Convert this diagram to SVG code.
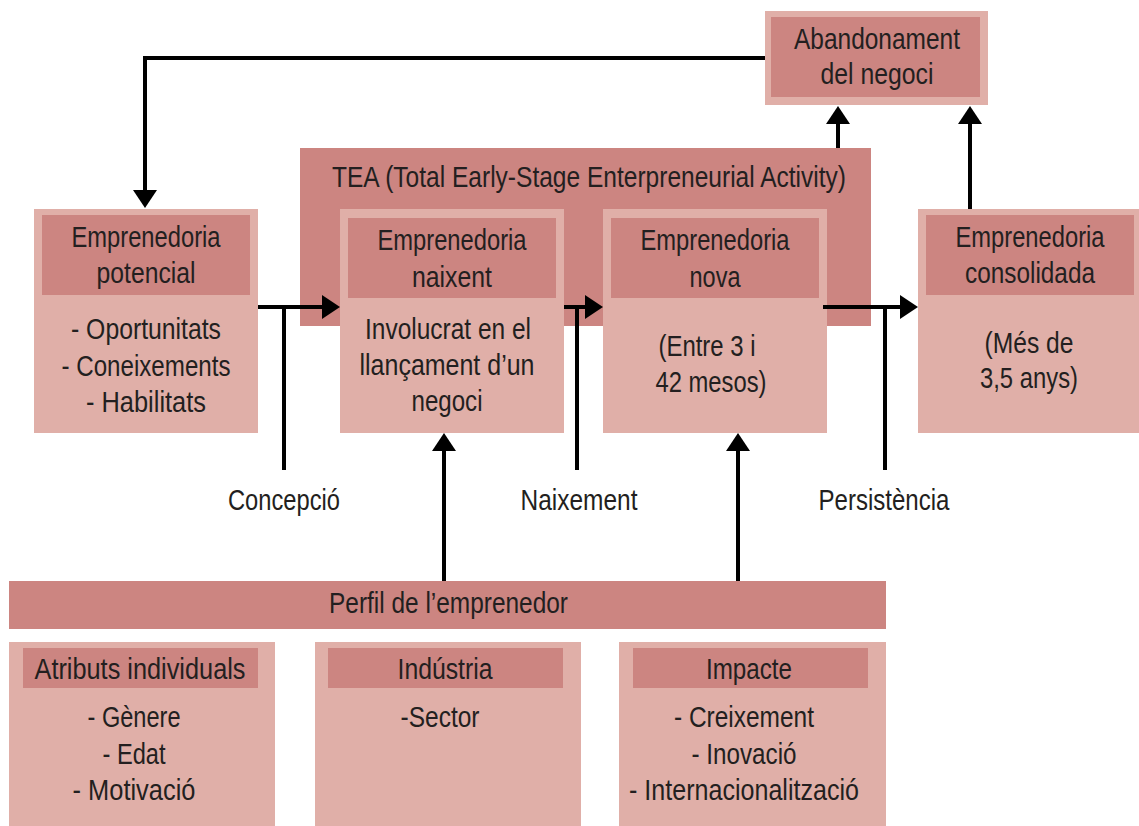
<svg xmlns="http://www.w3.org/2000/svg" width="1139" height="826" viewBox="0 0 1139 826">
<style>
.dk{fill:#cc8581}
.lt{fill:#e0afa8}
text{font-family:"Liberation Sans",Arial,sans-serif;font-size:29px;fill:#231f20;text-anchor:middle}
.ln{fill:none;stroke:#000;stroke-width:4;stroke-linejoin:miter}
</style>
<defs>
<marker id="ah" viewBox="0 0 18 24" refX="0" refY="12" markerWidth="18" markerHeight="24" markerUnits="userSpaceOnUse" orient="auto">
<path d="M0,0 L18,12 L0,24 Z" fill="#000"/>
</marker>
</defs>
<rect width="1139" height="826" fill="#fff"/>

<g id="tea">
<rect class="dk" x="300" y="148" width="571" height="178"/>
<text x="589" y="187" textLength="514" lengthAdjust="spacingAndGlyphs">TEA (Total Early-Stage Enterpreneurial Activity)</text>
</g>

<g id="abandonament">
<rect class="lt" x="765" y="11" width="223" height="94"/>
<rect class="dk" x="771" y="17" width="209" height="80"/>
<text x="877" y="49" textLength="166" lengthAdjust="spacingAndGlyphs">Abandonament</text>
<text x="877" y="84" textLength="113" lengthAdjust="spacingAndGlyphs">del negoci</text>
</g>

<g id="potencial">
<rect class="lt" x="34" y="209" width="224" height="224"/>
<rect class="dk" x="42" y="215" width="208" height="80"/>
<text x="146" y="247" textLength="149" lengthAdjust="spacingAndGlyphs">Emprenedoria</text>
<text x="146" y="283" textLength="99" lengthAdjust="spacingAndGlyphs">potencial</text>
<text x="146" y="339" textLength="150" lengthAdjust="spacingAndGlyphs">- Oportunitats</text>
<text x="146" y="376" textLength="169" lengthAdjust="spacingAndGlyphs">- Coneixements</text>
<text x="146" y="412" textLength="120" lengthAdjust="spacingAndGlyphs">- Habilitats</text>
</g>

<g id="naixent">
<rect class="lt" x="340" y="209" width="224" height="224"/>
<rect class="dk" x="348" y="218" width="208" height="80"/>
<text x="452" y="250" textLength="149" lengthAdjust="spacingAndGlyphs">Emprenedoria</text>
<text x="452" y="287" textLength="80" lengthAdjust="spacingAndGlyphs">naixent</text>
<text x="448" y="339" textLength="166" lengthAdjust="spacingAndGlyphs">Involucrat en el</text>
<text x="447" y="375" textLength="175" lengthAdjust="spacingAndGlyphs">llançament d’un</text>
<text x="447" y="411" textLength="71" lengthAdjust="spacingAndGlyphs">negoci</text>
</g>

<g id="nova">
<rect class="lt" x="603" y="209" width="224" height="224"/>
<rect class="dk" x="611" y="218" width="208" height="80"/>
<text x="715" y="250" textLength="149" lengthAdjust="spacingAndGlyphs">Emprenedoria</text>
<text x="715" y="287" textLength="51" lengthAdjust="spacingAndGlyphs">nova</text>
<text x="707" y="356" textLength="97" lengthAdjust="spacingAndGlyphs">(Entre 3 i</text>
<text x="711" y="392" textLength="111" lengthAdjust="spacingAndGlyphs">42 mesos)</text>
</g>

<g id="consolidada">
<rect class="lt" x="918" y="209" width="221" height="224"/>
<rect class="dk" x="926" y="215" width="208" height="80"/>
<text x="1030" y="247" textLength="149" lengthAdjust="spacingAndGlyphs">Emprenedoria</text>
<text x="1030" y="283" textLength="130" lengthAdjust="spacingAndGlyphs">consolidada</text>
<text x="1029" y="353" textLength="89" lengthAdjust="spacingAndGlyphs">(Més de</text>
<text x="1029" y="388" textLength="98" lengthAdjust="spacingAndGlyphs">3,5 anys)</text>
</g>

<g id="perfil">
<rect class="dk" x="9" y="581" width="877" height="48"/>
<text x="448.5" y="613" textLength="239" lengthAdjust="spacingAndGlyphs">Perfil de l’emprenedor</text>
</g>

<g id="atributs">
<rect class="lt" x="9" y="642" width="266" height="184"/>
<rect class="dk" x="23" y="648" width="235" height="40"/>
<text x="140" y="679" textLength="211" lengthAdjust="spacingAndGlyphs">Atributs individuals</text>
<text x="134" y="727" textLength="93" lengthAdjust="spacingAndGlyphs">- Gènere</text>
<text x="134" y="764" textLength="63" lengthAdjust="spacingAndGlyphs">- Edat</text>
<text x="134" y="800" textLength="123" lengthAdjust="spacingAndGlyphs">- Motivació</text>
</g>

<g id="industria">
<rect class="lt" x="315" y="642" width="266" height="184"/>
<rect class="dk" x="328" y="648" width="235" height="40"/>
<text x="445" y="679" textLength="95" lengthAdjust="spacingAndGlyphs">Indústria</text>
<text x="440" y="727" textLength="79" lengthAdjust="spacingAndGlyphs">-Sector</text>
</g>

<g id="impacte">
<rect class="lt" x="619" y="642" width="267" height="184"/>
<rect class="dk" x="633" y="648" width="235" height="40"/>
<text x="749" y="679" textLength="86" lengthAdjust="spacingAndGlyphs">Impacte</text>
<text x="744" y="727" textLength="140" lengthAdjust="spacingAndGlyphs">- Creixement</text>
<text x="744" y="764" textLength="105" lengthAdjust="spacingAndGlyphs">- Inovació</text>
<text x="744" y="800" textLength="230" lengthAdjust="spacingAndGlyphs">- Internacionalització</text>
</g>

<g id="connectors">
<path class="ln" d="M765,58 H145 V190" marker-end="url(#ah)"/>
<path class="ln" d="M258,307 H322" marker-end="url(#ah)"/>
<path class="ln" d="M284,305 V470"/>
<path class="ln" d="M564,307 H585" marker-end="url(#ah)"/>
<path class="ln" d="M577,305 V470"/>
<path class="ln" d="M823,307 H900" marker-end="url(#ah)"/>
<path class="ln" d="M885,305 V470"/>
<path class="ln" d="M838,148 V124" marker-end="url(#ah)"/>
<path class="ln" d="M970,209 V124" marker-end="url(#ah)"/>
<path class="ln" d="M444,581 V451" marker-end="url(#ah)"/>
<path class="ln" d="M738,581 V451" marker-end="url(#ah)"/>
</g>

<g id="labels">
<text x="284" y="510" textLength="112" lengthAdjust="spacingAndGlyphs">Concepció</text>
<text x="579" y="510" textLength="117" lengthAdjust="spacingAndGlyphs">Naixement</text>
<text x="884" y="510" textLength="131" lengthAdjust="spacingAndGlyphs">Persistència</text>
</g>
</svg>
